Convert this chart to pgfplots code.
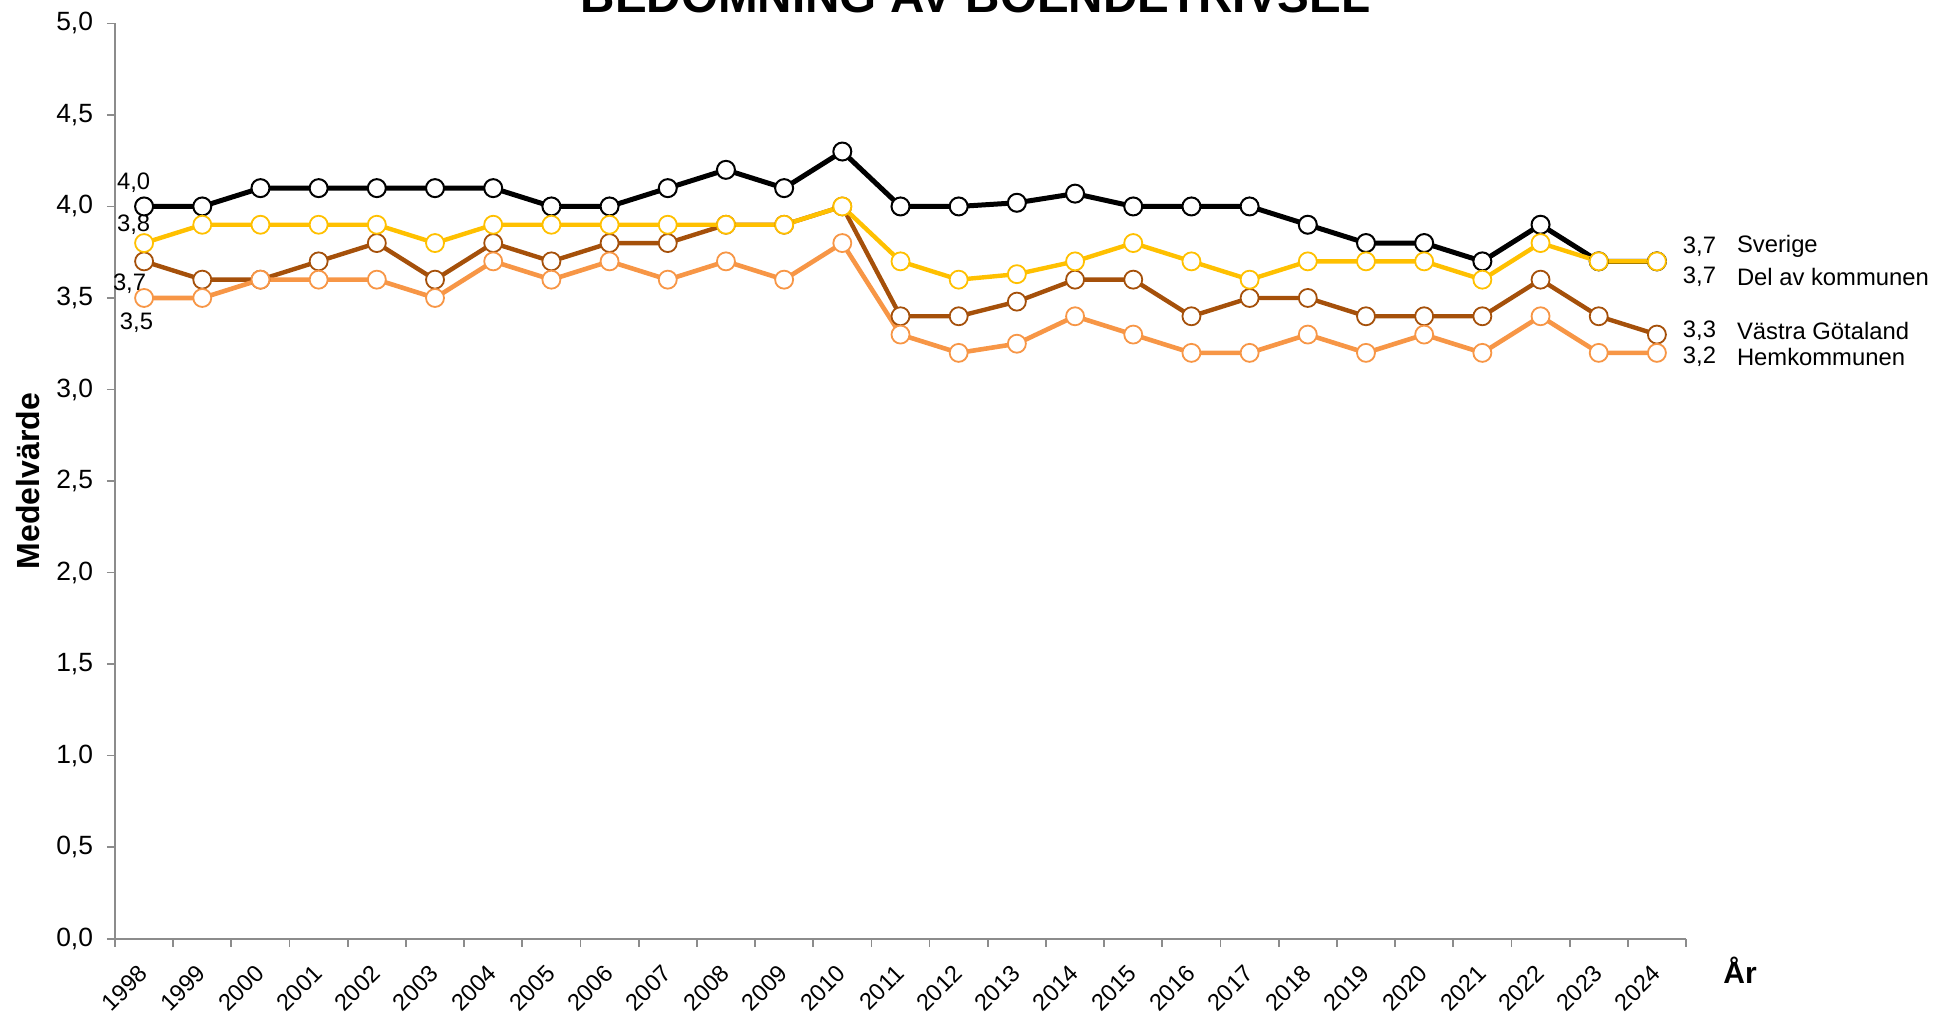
\documentclass[border=0pt]{standalone}
\usepackage{pgfplots}
\usepackage{pgfplotstable}
\pgfplotsset{compat=1.18}
\usepackage{fontspec}
\setmainfont{Liberation Sans}
\definecolor{cblack}{HTML}{000000}
\definecolor{cyellow}{HTML}{FFC000}
\definecolor{cbrown}{HTML}{A5500A}
\definecolor{corange}{HTML}{F79646}
\definecolor{axgray}{HTML}{8C8C8C}

\pgfplotstableread{
x sv del vg hem
0 4.0 3.8 3.7 3.5
1 4.0 3.9 3.6 3.5
2 4.1 3.9 3.6 3.6
3 4.1 3.9 3.7 3.6
4 4.1 3.9 3.8 3.6
5 4.1 3.8 3.6 3.5
6 4.1 3.9 3.8 3.7
7 4.0 3.9 3.7 3.6
8 4.0 3.9 3.8 3.7
9 4.1 3.9 3.8 3.6
10 4.2 3.9 3.9 3.7
11 4.1 3.9 3.9 3.6
12 4.3 4.0 4.0 3.8
13 4.0 3.7 3.4 3.3
14 4.0 3.6 3.4 3.2
15 4.02 3.63 3.48 3.25
16 4.07 3.7 3.6 3.4
17 4.0 3.8 3.6 3.3
18 4.0 3.7 3.4 3.2
19 4.0 3.6 3.5 3.2
20 3.9 3.7 3.5 3.3
21 3.8 3.7 3.4 3.2
22 3.8 3.7 3.4 3.3
23 3.7 3.6 3.4 3.2
24 3.9 3.8 3.6 3.4
25 3.7 3.7 3.4 3.2
26 3.7 3.7 3.3 3.2
}\data

\begin{document}
\begin{tikzpicture}
\begin{axis}[
  scale only axis,
  width=785.5pt, height=457.6pt,
  xmin=-0.5, xmax=26.5,
  ymin=0, ymax=5,
  axis lines=left,
  axis line style={-, draw=axgray, line width=0.9pt},
  clip=false,
  xtick={0,...,26},
  xticklabels={1998,1999,2000,2001,2002,2003,2004,2005,2006,2007,2008,2009,2010,2011,2012,2013,2014,2015,2016,2017,2018,2019,2020,2021,2022,2023,2024},
  minor xtick={-0.5,0.5,...,26.5},
  major x tick style={draw=none},
  minor x tick style={draw=axgray, line width=0.9pt},
  ytick={0,0.5,...,5},
  y tick style={draw=axgray, line width=0.9pt},
  tick align=outside,
  major tick length=4pt,
  minor tick length=4pt,
  xticklabel style={xshift=-3.35pt, yshift=-8.3pt, rotate=45, anchor=north east, inner sep=0pt, font=\fontsize{11.8}{11.8}\selectfont},
  yticklabel style={anchor=east, inner sep=0pt, font=\fontsize{13.2}{13.2}\selectfont, xshift=-6.8pt},
  /pgf/number format/.cd, use comma, fixed, fixed zerofill, precision=1, assume math mode=true,
]
\addplot[cblack, line width=2.5pt, mark=*, mark size=4.5pt, mark options={fill=white, draw=cblack, line width=1pt}] table[x=x, y=sv] {\data};
\addplot[cbrown, line width=2.2pt, mark=*, mark size=4.5pt, mark options={fill=white, draw=cbrown, line width=0.9pt}] table[x=x, y=vg] {\data};
\addplot[corange, line width=2.3pt, mark=*, mark size=4.5pt, mark options={fill=white, draw=corange, line width=0.9pt}] table[x=x, y=hem] {\data};
\addplot[cyellow, line width=2.2pt, mark=*, mark size=4.5pt, mark options={fill=white, draw=cyellow, line width=0.9pt}] table[x=x, y=del] {\data};

\begin{scope}[every node/.style={font=\fontsize{11.9}{11.9}\selectfont, inner sep=0pt}]
\node at (axis cs:-0.18,4.13) {4,0};
\node at (axis cs:-0.18,3.90) {3,8};
\node at (axis cs:-0.25,3.576) {3,7};
\node at (axis cs:-0.13,3.367) {3,5};
\node[anchor=west] at (axis cs:26.44,3.78) {3,7};
\node[anchor=west] at (axis cs:27.37,3.78) {Sverige};
\node[anchor=west] at (axis cs:26.44,3.616) {3,7};
\node[anchor=west] at (axis cs:27.37,3.616) {Del av kommunen};
\node[anchor=west] at (axis cs:26.44,3.319) {3,3};
\node[anchor=west] at (axis cs:27.37,3.319) {Västra Götaland};
\node[anchor=west] at (axis cs:26.44,3.179) {3,2};
\node[anchor=west] at (axis cs:27.37,3.179) {Hemkommunen};
\end{scope}

\path (rel axis cs:1,0) ++(27pt,-16pt) node[font=\bfseries\fontsize{15}{15}\selectfont] {År};
\path (rel axis cs:0,1) ++(430.3pt,5.5pt) node[anchor=base, font=\bfseries\fontsize{23.8}{23.8}\selectfont] {BEDÖMNING AV BOENDETRIVSEL};
\coordinate (ll) at (rel axis cs:0,0);
\end{axis}
\path (ll) ++(-43.5pt,228.8pt) node[anchor=center, rotate=90, inner sep=0pt, font=\bfseries\fontsize{16}{16}\selectfont] {Medelvärde};
\pgfresetboundingbox
\path (ll) ++(-57.5pt,-37.7pt) rectangle ++(967pt,507pt);
\end{tikzpicture}
\end{document}
